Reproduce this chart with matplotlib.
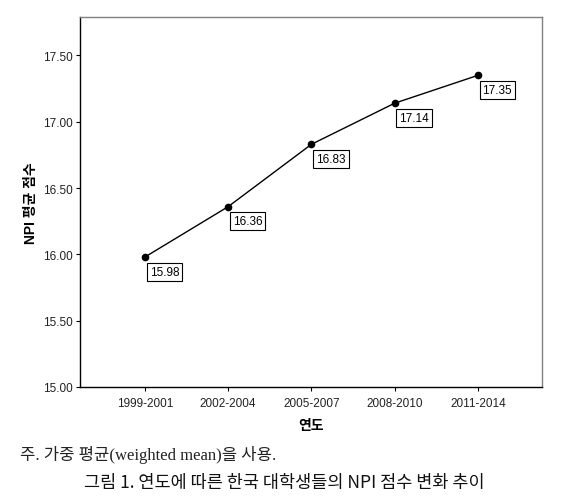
import matplotlib
matplotlib.use("Agg")
import matplotlib.pyplot as plt

periods = ["1999-2001", "2002-2004", "2005-2007", "2008-2010", "2011-2014"]
npi_mean = [15.98, 16.36, 16.83, 17.14, 17.35]
y_ticks = [15.00, 15.50, 16.00, 16.50, 17.00, 17.50]

plt.rcParams['font.family'] = ['Liberation Sans', 'Noto Sans CJK KR', 'DejaVu Sans']

fig = plt.figure(figsize=(5.63, 5.02), dpi=100)
ax = fig.add_axes([80/563, 1-388/502, (542-80)/563, (388-18)/502])

x = list(range(len(periods)))
ax.plot(x, npi_mean, color='black', lw=1.0, marker='o', markersize=4.5, zorder=3)
for xi, v in zip(x, npi_mean):
    ax.annotate(f"{v:.2f}", (xi, v), xytext=(14, -10.5), textcoords='offset points',
                ha='center', va='center', fontsize=8.5, color='black',
                bbox=dict(boxstyle='square,pad=0.25', fc='white', ec='black', lw=0.8))

ax.set_xlim(-0.78, 4.77)
ax.set_ylim(15.0, 17.79)
ax.set_xticks(x)
ax.set_xticklabels(periods)
ax.set_yticks(y_ticks)
ax.set_yticklabels([f"{t:.2f}" for t in y_ticks])
ax.tick_params(axis='both', labelsize=8.5, length=3, width=0.8, color='black', labelcolor='#222222', pad=2)
ax.tick_params(axis='x', pad=4)

for s in ['left', 'bottom']:
    ax.spines[s].set_color('black')
    ax.spines[s].set_linewidth(1.0)
for s in ['top', 'right']:
    ax.spines[s].set_color('#808080')
    ax.spines[s].set_linewidth(1.0)

ax.set_xlabel("연도", fontsize=10, fontweight='bold', labelpad=7,
              family=['Noto Sans CJK KR', 'DejaVu Sans'])
ax.set_ylabel("NPI 평균 점수", fontsize=10, fontweight='bold', labelpad=4,
              family=['Liberation Sans', 'Noto Sans CJK KR'])

fig.text(20/563, 1-455/502, "주. 가중 평균(weighted mean)을 사용.", fontsize=12,
         ha='left', va='center', family=['Liberation Serif', 'Noto Sans CJK KR'], color='#222222')
fig.text(284/563, 1-483/502, "그림 1. 연도에 따른 한국 대학생들의 NPI 점수 변화 추이", fontsize=12.6,
         ha='center', va='center', family=['Noto Sans CJK KR', 'DejaVu Sans'], color='#111111')

fig.savefig("out.png", dpi=100)
